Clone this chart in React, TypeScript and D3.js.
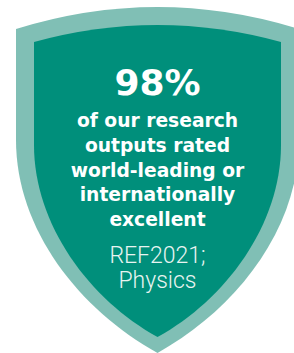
import React, { useEffect, useRef } from "react";
import * as d3 from "d3";

// content of the badge
const headline = ["98%"];
const bodyLines = ["of our research", "outputs rated", "world-leading or", "internationally", "excellent"];
const sourceLines = ["REF2021;", "Physics"];

const W = 294;
const H = 353;

export default function App() {
  const ref = useRef<SVGSVGElement | null>(null);

  useEffect(() => {
    const svg = d3.select(ref.current);
    svg.selectAll("*").remove();

    const cx = 157.5;

    // shield outline: curved top, straight sides, bowed bottom to a point
    const shield = (l: number, top: number, peak: number, sideEnd: number, tip: number, bow: number[]) => {
      const r = 2 * cx - l;
      const p = d3.path();
      p.moveTo(l, top);
      p.quadraticCurveTo(cx, 2 * peak - top, r, top);
      p.lineTo(r, sideEnd);
      p.bezierCurveTo(r, bow[0], 2 * cx - bow[1], bow[2], cx, tip);
      p.bezierCurveTo(bow[1], bow[2], l, bow[0], l, sideEnd);
      p.closePath();
      return p.toString();
    };

    svg.append("path")
      .attr("d", shield(16, 29, 7, 140, 353, [230, 80, 310]))
      .attr("fill", "#80bfb5");

    svg.append("path")
      .attr("d", shield(34, 42, 25, 145, 337, [225, 90, 300]))
      .attr("fill", "#008f7b");

    svg.append("text")
      .attr("x", cx)
      .attr("y", 95)
      .attr("text-anchor", "middle")
      .attr("font-family", "'DejaVu Sans', sans-serif")
      .attr("font-weight", 700)
      .attr("font-size", 36)
      .attr("fill", "#fff")
      .text(headline[0]);

    const lineY = d3.scaleLinear().domain([0, bodyLines.length - 1]).range([127, 226]);

    svg.append("g")
      .selectAll("text")
      .data(bodyLines)
      .join("text")
        .attr("x", cx)
        .attr("y", (d, i) => lineY(i))
        .attr("text-anchor", "middle")
        .attr("font-family", "'DejaVu Sans', sans-serif")
        .attr("font-weight", 700)
        .attr("font-size", 18.7)
        .attr("fill", "#fff")
        .text(d => d);

    const srcY = d3.scaleLinear().domain([0, 1]).range([263, 288]);

    svg.append("g")
      .selectAll("text")
      .data(sourceLines)
      .join("text")
        .attr("x", cx)
        .attr("y", (d, i) => srcY(i))
        .attr("text-anchor", "middle")
        .attr("font-family", "Roboto, sans-serif")
        .attr("font-weight", 300)
        .attr("font-size", 23)
        .attr("fill", "#e8f4f1")
        .text(d => d);
  }, []);

  return (
    <svg ref={ref} width={W} height={H}
      style={{ position: "absolute", left: 0, top: 0, background: "#fff" }} />
  );
}
